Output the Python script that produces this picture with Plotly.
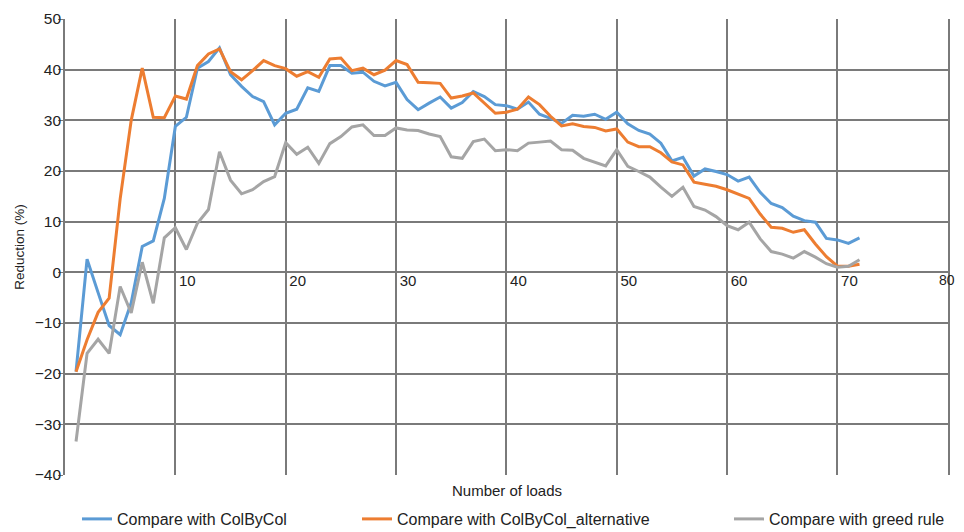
import plotly.graph_objects as go

loads = list(range(1, 73))

colbycol = [-19.6, 2.6, -4.0, -10.5, -12.3, -6.0, 5.1, 6.2, 14.6, 28.8,
            30.6, 40.3, 41.6, 44.3, 39.0, 36.7, 34.7, 33.7, 29.1, 31.4,
            32.2, 36.4, 35.7, 40.8, 40.8, 39.3, 39.5, 37.7, 36.8, 37.5,
            34.1, 32.1, 33.4, 34.6, 32.4, 33.5, 35.7, 34.7, 33.1, 32.9,
            32.2, 33.6, 31.2, 30.4, 29.4, 31.0, 30.8, 31.2, 30.2, 31.6,
            29.3, 28.0, 27.3, 25.5, 22.0, 22.7, 19.0, 20.4, 19.9, 19.3,
            18.0, 18.8, 15.8, 13.6, 12.8, 11.1, 10.2, 9.9, 6.7, 6.4,
            5.7, 6.8]

colbycol_alt = [-19.6, -13.3, -7.9, -5.1, 14.5, 30.0, 40.3, 30.6, 30.5, 34.8,
                34.2, 40.8, 43.1, 44.1, 39.6, 38.0, 39.8, 41.8, 40.8, 40.2,
                38.7, 39.6, 38.5, 42.1, 42.3, 39.8, 40.3, 39.0, 39.9, 41.8,
                41.0, 37.5, 37.4, 37.3, 34.4, 34.8, 35.4, 33.4, 31.4, 31.6,
                32.2, 34.6, 33.1, 30.8, 28.9, 29.3, 28.8, 28.6, 27.9, 28.3,
                25.7, 24.8, 24.8, 23.6, 21.8, 21.2, 17.8, 17.4, 17.0, 16.3,
                15.4, 14.6, 11.5, 8.9, 8.7, 7.9, 8.4, 5.6, 3.1, 1.2,
                1.2, 1.6]

greed = [-33.4, -16.0, -13.2, -16.0, -2.8, -8.0, 2.0, -6.1, 6.8, 8.8,
         4.5, 9.7, 12.4, 23.8, 18.2, 15.5, 16.3, 17.9, 18.9, 25.6,
         23.3, 24.7, 21.5, 25.4, 26.8, 28.7, 29.1, 27.0, 27.0, 28.5,
         28.1, 28.0, 27.3, 26.8, 22.8, 22.5, 25.8, 26.3, 24.0, 24.2,
         24.0, 25.5, 25.7, 25.9, 24.2, 24.1, 22.5, 21.7, 21.0, 24.2,
         20.9, 19.9, 18.8, 16.8, 15.0, 16.8, 13.0, 12.3, 11.0, 9.2,
         8.4, 9.9, 6.6, 4.1, 3.6, 2.8, 4.1, 3.0, 1.7, 1.0,
         1.2, 2.5]

series_names = ["Compare with ColByCol", "Compare with ColByCol_alternative",
                "Compare with greed rule"]
series_colors = ["#5B9BD5", "#ED7D31", "#A5A5A5"]
x_ticks = [10, 20, 30, 40, 50, 60, 70]
x_last_tick = [80]
y_ticks = [-40, -30, -20, -10, 0, 10, 20, 30, 40, 50]

FONT = "Liberation Sans, Arial, sans-serif"
# the page body adds an 8px margin on every side
W, H = 956, 524
X_RANGE = [0, 80.02]
legend_ids = ["legend", "legend2", "legend3"]
legend_left_px = [69, 349, 721]

fig = go.Figure()
for name, ys, col, lid in zip(series_names, [colbycol, colbycol_alt, greed],
                              series_colors, legend_ids):
    fig.add_trace(go.Scatter(x=loads, y=ys, mode="lines", name=name,
                             line=dict(color=col, width=3), legend=lid))

# empty helper trace so the overlaying axis carrying the last tick label is drawn
fig.add_trace(go.Scatter(x=x_last_tick, y=[None], xaxis="x2", yaxis="y",
                         mode="lines", showlegend=False, hoverinfo="skip"))

legend_common = dict(orientation="h", xref="container", yref="container",
                     xanchor="left", yanchor="middle", y=(H - 511) / H,
                     font=dict(size=16, color="#222222"),
                     bgcolor="rgba(0,0,0,0)", borderwidth=0)

fig.update_layout(
    width=W, height=H,
    margin=dict(l=57, r=16, t=11, b=57, autoexpand=False),
    paper_bgcolor="white", plot_bgcolor="white",
    font=dict(family=FONT, size=14, color="#222222"),
    showlegend=True,
    legend=dict(x=legend_left_px[0] / W, **legend_common),
    legend2=dict(x=legend_left_px[1] / W, **legend_common),
    legend3=dict(x=legend_left_px[2] / W, **legend_common),
    xaxis=dict(range=X_RANGE, tickvals=x_ticks + x_last_tick,
               ticktext=[str(v) for v in x_ticks] + [""],
               showgrid=True, gridcolor="#7a7a7a", gridwidth=1.6,
               zeroline=False, showline=False, ticks="",
               anchor="free", position=40/90, automargin=False,
               ticklabelshift=12, ticklabelstandoff=-2,
               tickfont=dict(size=15)),
    xaxis2=dict(range=X_RANGE, overlaying="x", tickvals=x_last_tick,
                ticktext=[str(v) for v in x_last_tick],
                showgrid=False, zeroline=False, showline=False, ticks="",
                anchor="free", position=40/90, side="bottom", automargin=False,
                ticklabelshift=-1, ticklabelstandoff=-2,
                ticklabeloverflow="allow",
                tickfont=dict(size=14)),
    yaxis=dict(range=[-40, 50], tickvals=y_ticks, automargin=False,
               showgrid=True, gridcolor="#7a7a7a", gridwidth=1.6,
               zeroline=False, showline=True, mirror=True,
               linecolor="#7a7a7a", linewidth=1.6,
               ticks="outside", ticklen=5, tickcolor="#7a7a7a",
               ticklabelstandoff=-6,
               tickfont=dict(size=15.5),
               title=dict(text="Reduction (%)", font=dict(size=13.5), standoff=7)),
    annotations=[dict(text="Number of loads", x=0.5, xref="paper", y=-0.033,
                      yref="paper", yanchor="middle", showarrow=False,
                      font=dict(size=15))],
)

fig.write_html("out.html")
